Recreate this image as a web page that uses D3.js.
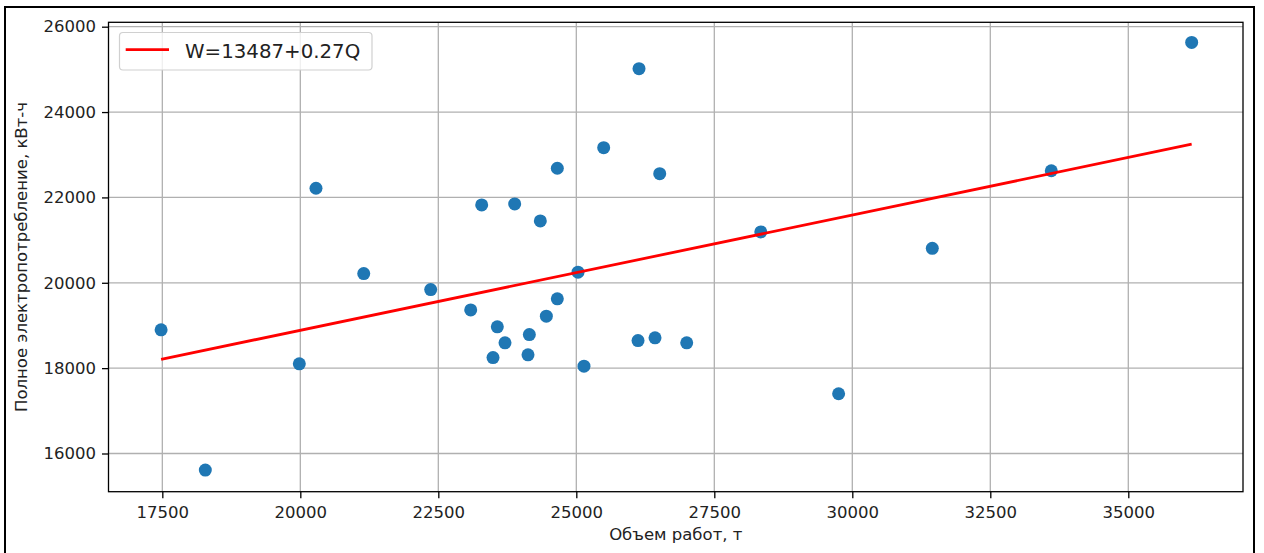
<!DOCTYPE html>
<html>
<head>
<meta charset="utf-8">
<script src="https://cdnjs.cloudflare.com/ajax/libs/d3/7.8.5/d3.min.js"></script>
<style>
  html, body { margin: 0; padding: 0; background: #fff; }
  svg { display: block; font-family: "DejaVu Sans", sans-serif; }
</style>
</head>
<body>
<svg id="chart" width="1264" height="553"></svg>
<script>
// Data
const volume = [17478, 18279, 19982, 20284, 21149, 22362, 23087, 23286, 23884, 24348,
                24656, 25496, 26136, 26511, 25031, 24656, 24457, 24149, 23569, 23708,
                23491, 24125, 25139, 26118, 26426, 27000, 28342, 29752, 31449, 33605, 36148];
const energy = [18897, 15611, 18101, 22215, 20215, 19841, 19365, 21824, 21848, 21450,
                22684, 23166, 25016, 22557, 20248, 19623, 19218, 18787, 18967, 18592,
                18248, 18311, 18047, 18646, 18710, 18592, 21192, 17400, 20808, 22625, 25632];
const fitIntercept = [13487];
const fitSlope = [0.27];
const legendLabels = ["W=13487+0.27Q"];
const xTicks = [17500, 20000, 22500, 25000, 27500, 30000, 32500, 35000];
const yTicks = [16000, 18000, 20000, 22000, 24000, 26000];
const xLabel = "Объем работ, т";
const yLabel = "Полное электропотребление, кВт-ч";

const svg = d3.select("#chart");
const L = 108.5, R = 1243, T = 22.3, B = 491.7;

const x = d3.scaleLinear().domain([16525, 37078]).range([L, R]);
const y = d3.scaleLinear().domain([15105, 26103]).range([B, T]);

// outer frame
svg.append("rect").attr("x", 5).attr("y", 7).attr("width", 1249).attr("height", 560)
  .attr("fill", "none").attr("stroke", "#000").attr("stroke-width", 2);

// grid
const grid = svg.append("g");
grid.selectAll("line.gx").data(xTicks).enter().append("line")
  .attr("x1", d => x(d)).attr("x2", d => x(d)).attr("y1", T).attr("y2", B)
  .attr("stroke", "#b0b0b0").attr("stroke-width", 1.3);
grid.selectAll("line.gy").data(yTicks).enter().append("line")
  .attr("x1", L).attr("x2", R).attr("y1", d => y(d)).attr("y2", d => y(d))
  .attr("stroke", "#b0b0b0").attr("stroke-width", 1.3);

// axes
const xAxis = d3.axisBottom(x).tickValues(xTicks).tickSize(6.5).tickPadding(8).tickFormat(d3.format("d"));
const yAxis = d3.axisLeft(y).tickValues(yTicks).tickSize(6.5).tickPadding(6).tickFormat(d3.format("d"));
const gx = svg.append("g").attr("transform", `translate(0,${B})`).call(xAxis);
const gy = svg.append("g").attr("transform", `translate(${L},0)`).call(yAxis);
[gx, gy].forEach(g => {
  g.select(".domain").remove();
  g.selectAll(".tick line").attr("stroke", "#000").attr("stroke-width", 1.3);
  g.selectAll(".tick text").attr("fill", "#222").style("font-size", "16.5px")
    .style("font-family", "DejaVu Sans, sans-serif");
});

// data points
svg.append("g").selectAll("circle").data(volume.map((v, i) => [v, energy[i]])).enter()
  .append("circle")
  .attr("cx", d => x(d[0])).attr("cy", d => y(d[1])).attr("r", 6.5)
  .attr("fill", "#1f77b4");

// regression line
const xr = d3.extent(volume);
svg.append("path")
  .datum(xr.map(v => [v, fitIntercept[0] + fitSlope[0] * v]))
  .attr("d", d3.line().x(d => x(d[0])).y(d => y(d[1])))
  .attr("fill", "none").attr("stroke", "#ff0000").attr("stroke-width", 2.8);

// spines
svg.append("rect").attr("x", L).attr("y", T).attr("width", R - L).attr("height", B - T)
  .attr("fill", "none").attr("stroke", "#000").attr("stroke-width", 1.3);

// legend
const lg = svg.append("g");
lg.append("rect").attr("x", 119.5).attr("y", 32.5).attr("width", 252.5).attr("height", 37.5)
  .attr("rx", 3.5).attr("fill", "#fff").attr("fill-opacity", 0.8)
  .attr("stroke", "#d0d0d0").attr("stroke-width", 1.2);
lg.append("line").attr("x1", 125.7).attr("x2", 169).attr("y1", 49.7).attr("y2", 49.7)
  .attr("stroke", "#ff0000").attr("stroke-width", 2.8);
lg.append("text").attr("x", 185).attr("y", 58.3).text(legendLabels[0])
  .attr("fill", "#222").style("font-size", "19.8px");

// axis labels
svg.append("text").attr("x", (L + R) / 2).attr("y", 540).attr("text-anchor", "middle")
  .attr("fill", "#222").style("font-size", "16.5px").text(xLabel);
svg.append("text").attr("transform", `translate(26.5,${(T + B) / 2}) rotate(-90)`)
  .attr("text-anchor", "middle").attr("fill", "#222").style("font-size", "16.5px").text(yLabel);
</script>
</body>
</html>
